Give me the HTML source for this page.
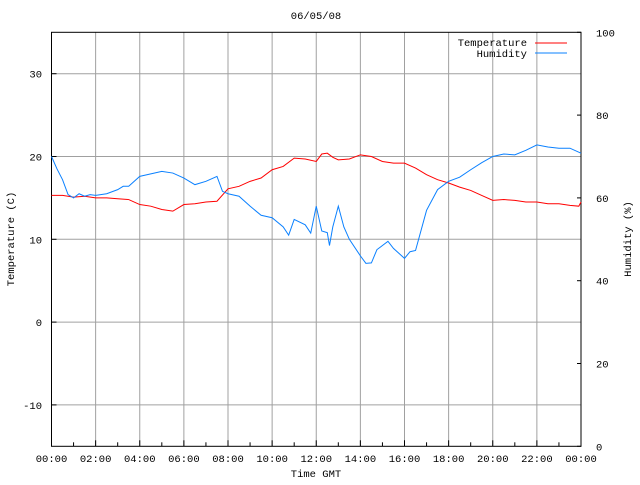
<!DOCTYPE html>
<html><head><meta charset="utf-8"><style>
body{margin:0;background:#fff}
svg text{font-family:"Liberation Mono",monospace;font-size:10.5px;fill:#000}
</style></head><body>
<svg id="chart" width="640" height="480" xmlns="http://www.w3.org/2000/svg">
<g id="grid"></g>
<g id="axes"></g>
<g id="series"></g>
<text x="316" y="19" text-anchor="middle">06/05/08</text>
<text x="316" y="477" text-anchor="middle">Time GMT</text>
<text x="0" y="0" text-anchor="middle" transform="translate(14,239) rotate(-90)">Temperature (C)</text>
<text x="0" y="0" text-anchor="middle" transform="translate(631,239) rotate(-90)">Humidity (%)</text>
<g>
<text x="527" y="46" text-anchor="end">Temperature</text>
<line x1="535" y1="43" x2="567" y2="43" stroke="#ff0000"/>
<text x="527" y="57" text-anchor="end">Humidity</text>
<line x1="535" y1="53" x2="567" y2="53" stroke="#0a80ff"/>
</g>
</svg>
<script>
const xTickLabels=["00:00","02:00","04:00","06:00","08:00","10:00","12:00","14:00","16:00","18:00","20:00","22:00","00:00"];
const tempTicks=[-10,0,10,20,30];
const humTicks=[0,20,40,60,80,100];
const tempHours=[0,0.5,1,1.5,2,2.5,3,3.5,4,4.5,5,5.5,6,6.5,7,7.5,8,8.5,9,9.5,10,10.5,11,11.5,12,12.25,12.5,12.75,13,13.5,14,14.5,15,15.5,16,16.5,17,17.5,18,18.5,19,19.5,20,20.5,21,21.5,22,22.5,23,23.5,23.9,24];
const tempValues=[15.3,15.3,15.1,15.2,15.0,15.0,14.9,14.8,14.2,14.0,13.6,13.4,14.2,14.3,14.5,14.6,16.1,16.4,17.0,17.4,18.4,18.8,19.8,19.7,19.4,20.3,20.4,19.9,19.6,19.7,20.2,20.0,19.4,19.2,19.2,18.6,17.8,17.2,16.8,16.3,15.9,15.3,14.7,14.8,14.7,14.5,14.5,14.3,14.3,14.1,14.0,14.5];
const humHours=[0,0.25,0.5,0.75,1,1.25,1.5,1.75,2,2.5,3,3.25,3.5,4,4.5,5,5.5,6,6.5,7,7.5,7.75,8,8.5,9,9.5,10,10.5,10.75,11,11.5,11.75,12,12.25,12.5,12.6,12.75,13,13.25,13.5,14,14.25,14.5,14.75,15,15.25,15.5,16,16.25,16.5,17,17.5,18,18.5,19,19.5,20,20.5,21,21.5,22,22.5,23,23.5,24];
const humValues=[70,67,64.4,60.8,60,61,60.4,60.8,60.6,61,62,62.8,62.8,65.2,65.8,66.4,66,64.8,63.2,64,65.2,61.6,61,60.4,58,55.8,55.2,53,51,54.8,53.5,51.5,58,52,51.6,48.5,53,58,53,50,46,44.2,44.3,47.5,48.5,49.5,47.8,45.4,47,47.3,57,62,64,65,66.8,68.5,70,70.6,70.4,71.5,72.8,72.3,72,72,70.8];
const L=51.5,R=581,T=32.3,B=446.3;
const xs=h=>L+(R-L)*h/24;
const yT=t=>T+(35-t)*(B-T)/50;
const yH=v=>B-v*(B-T)/100;
const NS="http://www.w3.org/2000/svg";
function mk(tag,attrs,parent){const e=document.createElementNS(NS,tag);for(const k in attrs)e.setAttribute(k,attrs[k]);document.getElementById(parent).appendChild(e);return e;}
for(let i=1;i<12;i++){const e=mk('line',{x1:xs(i*2),x2:xs(i*2),y1:T,y2:B,stroke:'#a0a0a0'},'grid');

}
tempTicks.forEach(t=>{const e=mk('line',{x1:L,x2:R,y1:yT(t),y2:yT(t),stroke:'#a0a0a0'},'grid');


const lb=mk('text',{x:42,y:yT(t)+4,'text-anchor':'end'},'axes');lb.textContent=t;


const tk=mk('line',{x1:L,x2:L+5,y1:yT(t),y2:yT(t),stroke:'#000'},'axes');

});
humTicks.forEach(v=>{const lb=mk('text',{x:596,y:yH(v)+4},'axes');lb.textContent=v;


const tk=mk('line',{x1:R-4,x2:R,y1:yH(v),y2:yH(v),stroke:'#000'},'axes');

});
xTickLabels.forEach((s,i)=>{const lb=mk('text',{x:xs(i*2),y:462,'text-anchor':'middle'},'axes');lb.textContent=s;

});
for(let h=1;h<24;h++){const tk=mk('line',{x1:xs(h),x2:xs(h),y1:B-(h%2?4:6),y2:B,stroke:'#000'},'axes');

}
const fr=mk('rect',{x:L,y:T,width:R-L,height:B-T,fill:'none',stroke:'#000'},'axes');


const tp=mk('polyline',{points:tempHours.map((h,i)=>xs(h)+','+yT(tempValues[i])).join(' '),fill:'none',stroke:'#ff0000'},'series');


const hp=mk('polyline',{points:humHours.map((h,i)=>xs(h)+','+yH(humValues[i])).join(' '),fill:'none',stroke:'#0a80ff'},'series');


</script>
</body></html>
